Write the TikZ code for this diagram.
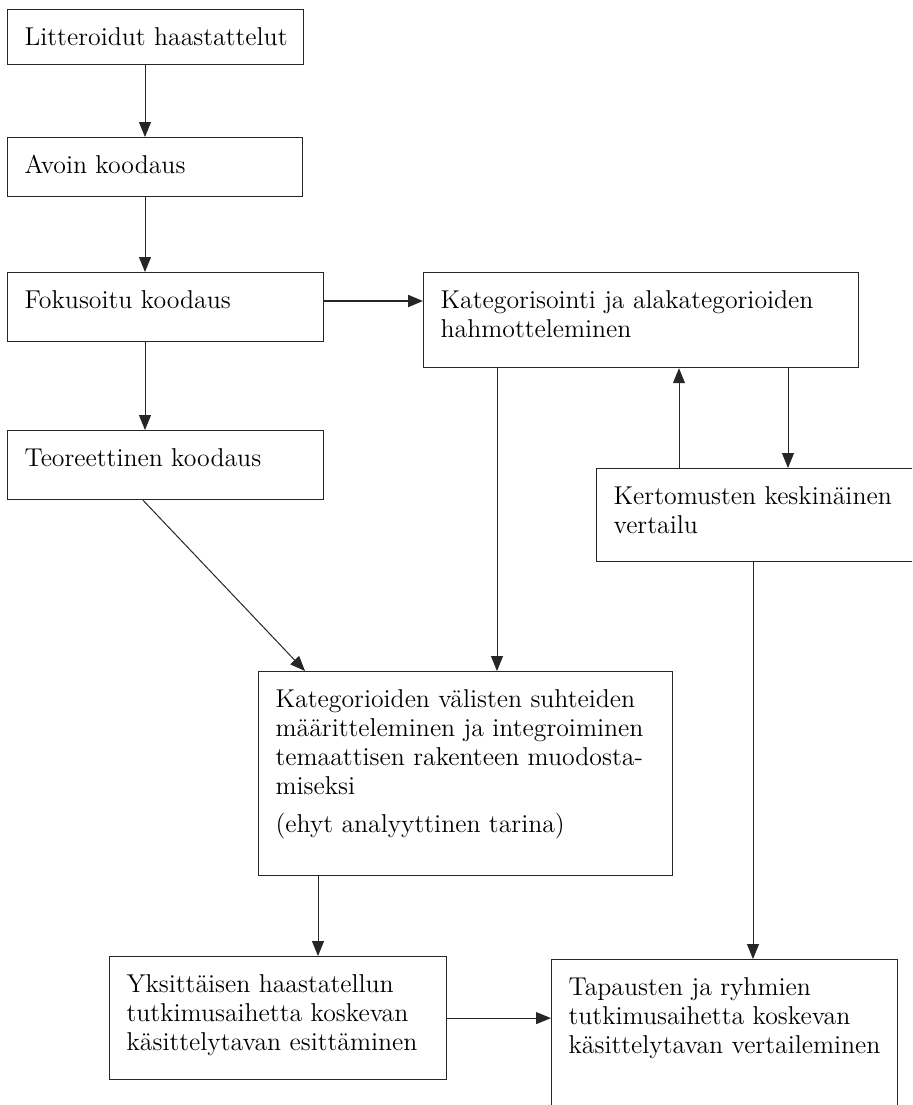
\documentclass[tikz,border=0pt]{standalone}
\usetikzlibrary{arrows.meta}
\newdimen\pxu \pxu=0.5pt
\newcommand\boxtxt[3]{\parbox[t][#2\pxu][t]{#1\pxu}{\fontsize{12.9}{14.5}\selectfont\raggedright\leftskip=17\pxu\rule{0pt}{36\pxu}#3}}
\tikzset{
  box/.style={draw=black!85,line width=0.6pt,inner sep=0pt,anchor=north west},
  arr/.style={-{Triangle[length=7.5pt,width=6pt]},draw=black!85,line width=0.5pt}
}
\begin{document}
\begin{tikzpicture}[x=0.5pt,y=-0.5pt]
\useasboundingbox (0,0) rectangle (912,1105);
\clip (0,0) rectangle (912,1105);
\node[box] (lit) at (7,9) {\boxtxt{296}{55}{Litteroidut haastattelut}};
\node[box] (avo) at (7,137) {\boxtxt{295}{59}{Avoin koodaus}};
\node[box] (fok) at (7,272) {\boxtxt{316}{69}{Fokusoitu koodaus}};
\node[box] (teo) at (7,430) {\boxtxt{316}{69}{Teoreettinen koodaus}};
\node[box] (kat) at (423,272) {\boxtxt{435}{95}{Kategorisointi ja alakategorioiden\\hahmotteleminen}};
\node[box] (ker) at (596,468) {\boxtxt{330}{93}{Kertomusten keskinäinen\\vertailu}};
\node[box] (int) at (258,671) {\boxtxt{414}{204}{Kategorioiden välisten suhteiden\\määritteleminen ja integroiminen\\temaattisen rakenteen muodosta-\\miseksi\\[9\pxu](ehyt analyyttinen tarina)}};
\node[box] (yks) at (109,956) {\boxtxt{337}{123}{Yksittäisen haastatellun\\tutkimusaihetta koskevan\\käsittelytavan esittäminen}};
\node[box] (tap) at (551,959) {\boxtxt{346}{170}{Tapausten ja ryhmien\\tutkimusaihetta koskevan\\käsittelytavan vertaileminen}};
\coordinate (colA) at (145,0);
\coordinate (colB) at (497,0);
\coordinate (colC) at (679,0);
\coordinate (colD) at (788,0);
\coordinate (colE) at (318,0);
\coordinate (colF) at (753,0);
\coordinate (diagA) at (143,0);
\coordinate (diagB) at (305,0);
\coordinate (rowK) at (0,301);
\draw[arr] (lit.south -| colA) -- (avo.north -| colA);
\draw[arr] (avo.south -| colA) -- (fok.north -| colA);
\draw[arr] (fok.south -| colA) -- (teo.north -| colA);
\draw[arr,line width=1pt] (fok.east |- rowK) -- (kat.west |- rowK);
\draw[arr] (kat.south -| colB) -- (int.north -| colB);
\draw[arr] (ker.north -| colC) -- (kat.south -| colC);
\draw[arr] (kat.south -| colD) -- (ker.north -| colD);
\draw[arr] (teo.south -| diagA) -- (int.north -| diagB);
\draw[arr] (int.south -| colE) -- (yks.north -| colE);
\draw[arr] (ker.south -| colF) -- (tap.north -| colF);
\draw[arr] (yks.east) -- (yks.east -| tap.west);
\end{tikzpicture}
\end{document}
